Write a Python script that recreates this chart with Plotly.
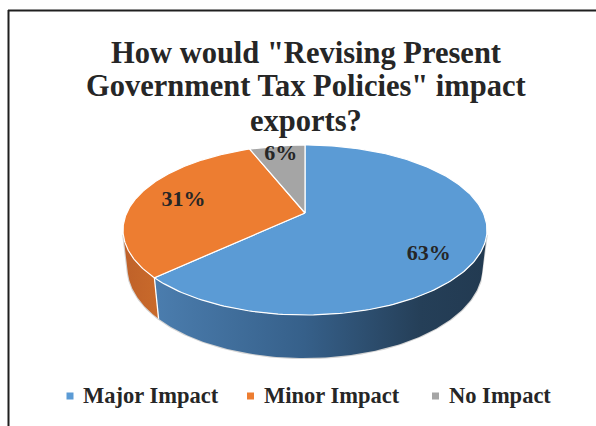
import numpy as np
import plotly.graph_objects as go

# ---- data ----
categories = ["Major Impact", "Minor Impact", "No Impact"]
shares = [63, 31, 6]
title_lines = ['How would "Revising Present', 'Government Tax Policies" impact', "exports?"]

# ---- styling ----
top_colors = ["#5b9bd5", "#ed7d31", "#a5a5a5"]
side_scales = [
    [[0, "#4b7dae"], [0.45, "#36608a"], [0.8, "#253f58"], [1, "#223a51"]],
    [[0, "#bf6129"], [1, "#c96a2b"]],
    [[0, "#8c8c8c"], [1, "#7c7c7c"]],
]
TEXT = "#262626"
FONT = "Liberation Serif"

W, H = 596, 426
CX, CY = 305, 213          # projected centre of the pie top (px)
SCALE = 792.8              # projection scale (px)
ELEV = np.arcsin(0.4576)   # camera elevation
DIST = 5 * np.cos(ELEV)    # camera distance (pie radius = 1)
THICK = 0.24               # cylinder height (pie radius = 1)

label_radius = [0.72, 0.72, 0.85]
label_z = [-0.10, 0.0, 0.0]
legend_x = [70, 250.5, 435.5]
legend_y = 396


def project(x, y, z):
    c, s = np.cos(ELEV), np.sin(ELEV)
    depth = DIST + y * c - z * s
    up = y * s + z * c
    return CX + SCALE * x / depth, CY - SCALE * up / depth


def rim(t, z=0.0, r=1.0):
    return project(r * np.sin(t), r * np.cos(t), z)


total = float(sum(shares))
bounds = 2 * np.pi * np.concatenate([[0], np.cumsum(shares)]) / total

# visible part of the cylinder wall
t_right = np.arccos(-1.0 / (DIST * np.cos(ELEV)))
t_left = 2 * np.pi - t_right

fig = go.Figure()

# faint outline under the wall
tt = np.linspace(t_right, t_left, 300)
bx, by = rim(tt, -THICK)
tx0, ty0 = rim(np.array([t_right]), 0)
tx1, ty1 = rim(np.array([t_left]), 0)
fig.add_trace(go.Scatter(
    x=np.concatenate([tx0, bx, tx1]), y=np.concatenate([ty0, by, ty1]),
    mode="lines", line=dict(color="#d4d4d4", width=2.2),
    hoverinfo="skip", showlegend=False))

# cylinder wall per slice
for i in range(len(shares)):
    a = max(bounds[i], t_right)
    b = min(bounds[i + 1], t_left)
    if a >= b:
        continue
    t = np.linspace(a, b, 160)
    ux, uy = rim(t, 0)
    lx, ly = rim(t[::-1], -THICK)
    fig.add_trace(go.Scatter(
        x=np.concatenate([ux, lx]), y=np.concatenate([uy, ly]),
        mode="lines", fill="toself", line=dict(width=0),
        fillgradient=dict(type="horizontal", colorscale=side_scales[i]),
        hoverinfo="skip", showlegend=False))

# white seams on the wall
for t0 in bounds[1:-1]:
    if t_right < t0 < t_left:
        sx = np.array([t0, t0])
        x0, y0 = rim(sx, np.array([0, -THICK]))
        fig.add_trace(go.Scatter(x=x0, y=y0, mode="lines",
                                 line=dict(color="white", width=1.3),
                                 hoverinfo="skip", showlegend=False))

# top face slices
for i in range(len(shares)):
    t = np.linspace(bounds[i], bounds[i + 1], 200)
    ax, ay = rim(t, 0)
    px = np.concatenate([[CX], ax, [CX]])
    py = np.concatenate([[CY], ay, [CY]])
    fig.add_trace(go.Scatter(
        x=px, y=py, mode="lines", fill="toself", fillcolor=top_colors[i],
        line=dict(color="white", width=1.2), name=categories[i],
        hoverinfo="skip", showlegend=False))

# value labels
lx, ly = [], []
for i in range(len(shares)):
    tm = 0.5 * (bounds[i] + bounds[i + 1])
    x, y = rim(np.array([tm]), label_z[i], label_radius[i])
    lx.append(x[0])
    ly.append(y[0])
fig.add_trace(go.Scatter(
    x=lx, y=ly, mode="text", text=[f"<b>{v}%</b>" for v in shares],
    textfont=dict(family=FONT, size=22, color=TEXT),
    hoverinfo="skip", showlegend=False))

annotations = []
for k, (line, yc) in enumerate(zip(title_lines, [52.5, 85.5, 120.5])):
    annotations.append(dict(
        x=306, y=yc, xref="x", yref="y", text=f"<b>{line}</b>", showarrow=False,
        xanchor="center", yanchor="middle",
        font=dict(family=FONT, size=30.5, color=TEXT)))

shapes = [
    dict(type="line", xref="x", yref="y", x0=8, x1=W, y0=10.5, y1=10.5,
         line=dict(color="#1f1f1f", width=2)),
    dict(type="line", xref="x", yref="y", x0=8.5, x1=8.5, y0=10, y1=H,
         line=dict(color="#1f1f1f", width=2)),
]
for name, col, mx in zip(categories, top_colors, legend_x):
    shapes.append(dict(type="rect", xref="x", yref="y",
                       x0=mx - 3.5, x1=mx + 3.5, y0=legend_y - 3.5, y1=legend_y + 3.5,
                       fillcolor=col, line=dict(width=0)))
    annotations.append(dict(
        x=mx + 11, y=legend_y - 0.5, xref="x", yref="y", text=f"<b>{name}</b>",
        showarrow=False, xanchor="left", yanchor="middle",
        font=dict(family=FONT, size=22.5, color=TEXT)))

fig.update_layout(
    width=W, height=H, margin=dict(l=0, r=0, t=0, b=0),
    paper_bgcolor="white", plot_bgcolor="white",
    xaxis=dict(range=[0, W], visible=False, fixedrange=True),
    yaxis=dict(range=[H, 0], visible=False, fixedrange=True),
    annotations=annotations, shapes=shapes, showlegend=False,
)

fig.write_html("out.html")
